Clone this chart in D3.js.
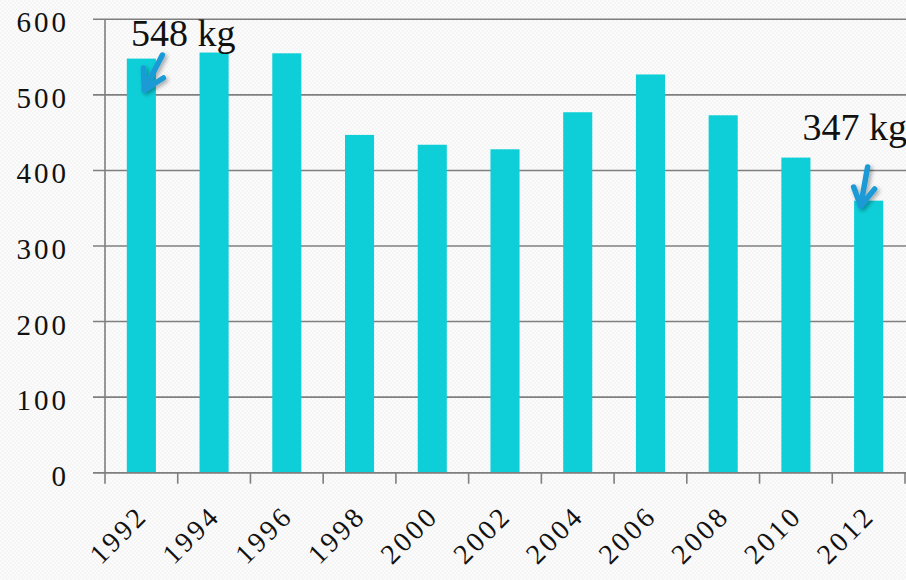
<!DOCTYPE html>
<html><head><meta charset="utf-8">
<script src="https://cdn.jsdelivr.net/npm/d3@7"></script>
<style>body{margin:0;background:#fafafa;}svg{display:block;}</style>
</head><body>
<script>
const years = ["1992","1994","1996","1998","2000","2002","2004","2006","2008","2010","2012"];
const values = [548,556,555,447,434,428,477,527,473,417,360];
const yTicks = [0,100,200,300,400,500,600];
const annotations = [{year:"1992", label:"548 kg"},{year:"2012", label:"347 kg"}];

const W=906,H=580;
const svg=d3.select("body").append("svg").attr("width",W).attr("height",H);
const defs=svg.append("defs");
const pat=defs.append("pattern").attr("id","bg").attr("width",4).attr("height",4).attr("patternUnits","userSpaceOnUse");
pat.append("rect").attr("width",4).attr("height",4).attr("fill","#fbfbfb");
pat.append("rect").attr("width",2).attr("height",2).attr("fill","#f5f5f5");
pat.append("rect").attr("x",2).attr("y",2).attr("width",2).attr("height",2).attr("fill","#f5f5f5");
svg.append("rect").attr("width",W).attr("height",H).attr("fill","url(#bg)");
const f=defs.append("filter").attr("id","sh").attr("x","-50%").attr("y","-50%").attr("width","200%").attr("height","200%");
f.append("feDropShadow").attr("dx",2).attr("dy",2).attr("stdDeviation",2).attr("flood-color","#000").attr("flood-opacity",0.35);

const x=d3.scaleBand().domain(years).range([105,905]).padding(0);
const y=d3.scaleLinear().domain([0,600]).range([472.7,19.3]);
const font="'Liberation Serif', 'DejaVu Serif', serif";

// gridlines
svg.append("g").selectAll("line").data(yTicks).join("line")
  .attr("x1",93).attr("x2",906).attr("y1",d=>y(d)).attr("y2",d=>y(d))
  .attr("stroke","#7f7f7f").attr("stroke-width",1.6);
// y labels
svg.append("g").selectAll("text").data(yTicks).join("text")
  .attr("x",69).attr("y",d=>y(d)+3).attr("text-anchor","end").attr("dominant-baseline","central")
  .attr("font-family",font).attr("font-size",29).attr("letter-spacing",3).attr("fill","#111")
  .text(d=>d);
// y axis line
svg.append("line").attr("x1",105).attr("x2",105).attr("y1",y(600)).attr("y2",y(0))
  .attr("stroke","#7f7f7f").attr("stroke-width",1.6);
// bars
const bw=x.bandwidth()*0.4;
svg.append("g").selectAll("rect").data(years).join("rect")
  .attr("x",d=>x(d)+x.bandwidth()*0.3).attr("width",bw)
  .attr("y",(d,i)=>y(values[i])).attr("height",(d,i)=>y(0)-y(values[i]))
  .attr("fill","#0ecfd8");
// x axis
const xa=svg.append("g");
xa.append("line").attr("x1",93).attr("x2",906).attr("y1",y(0)).attr("y2",y(0)).attr("stroke","#7f7f7f").attr("stroke-width",1.6);
const tickXs=years.map(d=>x(d)).concat([x(years[years.length-1])+x.bandwidth()]);
xa.selectAll("line.t").data(tickXs).join("line").attr("class","t")
  .attr("x1",d=>d).attr("x2",d=>d).attr("y1",y(0)).attr("y2",y(0)+11)
  .attr("stroke","#7f7f7f").attr("stroke-width",1.6);
xa.selectAll("text").data(years).join("text")
  .attr("transform",d=>`translate(${x(d)+x.bandwidth()/2+1},${y(0)+38}) rotate(-45)`)
  .attr("text-anchor","end").attr("dominant-baseline","central")
  .attr("font-family",font).attr("font-size",28).attr("letter-spacing",3).attr("fill","#111")
  .text(d=>d);

// annotations
const ann=svg.append("g");
ann.append("text").attr("x",131).attr("y",46).attr("font-family",font).attr("font-size",38).attr("fill","#111").text(annotations[0].label);
ann.append("text").attr("x",907).attr("y",140).attr("text-anchor","end").attr("font-family",font).attr("font-size",38).attr("fill","#111").text(annotations[1].label);

function arrow(x1,y1,x2,y2,ax1,ay1,ax2,ay2){
  const g=ann.append("g").attr("filter","url(#sh)").attr("stroke","#1b9ad6").attr("stroke-width",5.5).attr("stroke-linecap","round").attr("fill","none").attr("stroke-linejoin","round");
  g.append("line").attr("x1",x1).attr("y1",y1).attr("x2",x2).attr("y2",y2);
  g.append("path").attr("d",`M${ax1},${ay1}L${x2},${y2}L${ax2},${ay2}`);
}
const a1x=x("1992")+x.bandwidth()/2, a2x=x("2012")+x.bandwidth()/2;
arrow(a1x+21,55,a1x+3,90,a1x+2,68,a1x+22,78);
arrow(a2x-1,167,a2x-8,206,a2x-15,187,a2x+6,189);
</script>
</body></html>
